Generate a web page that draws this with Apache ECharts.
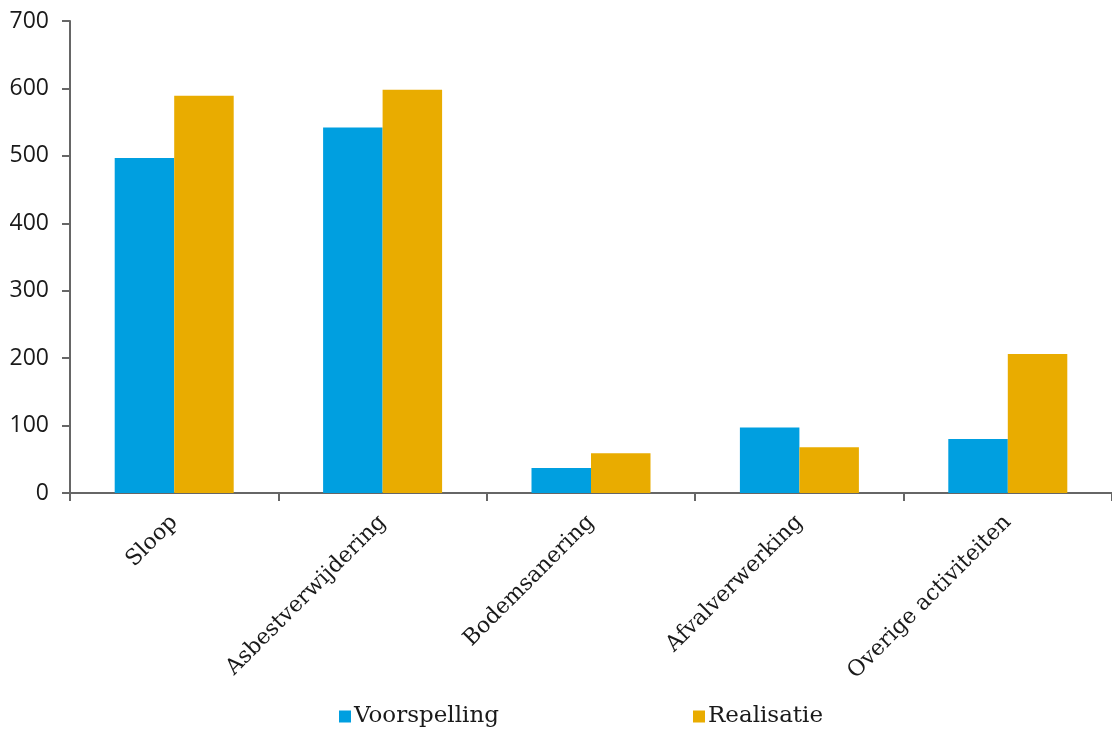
<!DOCTYPE html>
<html>
<head>
<meta charset="utf-8">
<script src="https://cdn.jsdelivr.net/npm/echarts@6/dist/echarts.min.js"></script>
<style>html,body{margin:0;padding:0;background:#fff;}#c{width:1112px;height:731px;}</style>
</head>
<body>
<div id="c"></div>
<script>
const categories = ['Sloop', 'Asbestverwijdering', 'Bodemsanering', 'Afvalverwerking', 'Overige activiteiten'];
const voorspelling = [497, 542, 37, 97, 80];
const realisatie = [589, 598, 59, 68, 206];
const yTicks = [0, 100, 200, 300, 400, 500, 600, 700];

const chart = echarts.init(document.getElementById('c'));
const serif = '"DejaVu Serif", serif';
const sans = '"Open Sans", sans-serif';
chart.setOption({
  animation: false,
  grid: { left: 70, top: 21, width: 1048, height: 472, containLabel: false },
  legend: [
    { data: ['Voorspelling'], left: 334, top: 700, itemWidth: 12, itemHeight: 12, itemGap: 0,
      icon: 'rect', textStyle: { fontFamily: serif, fontSize: 23, color: '#1a1a1a', padding: [0,0,0,-2] } },
    { data: ['Realisatie'], left: 688, top: 700, itemWidth: 12, itemHeight: 12, itemGap: 0,
      icon: 'rect', textStyle: { fontFamily: serif, fontSize: 23, color: '#1a1a1a', padding: [0,0,0,-2] } }
  ],
  xAxis: {
    type: 'category',
    data: categories,
    axisLine: { lineStyle: { color: '#666', width: 2 } },
    axisTick: { show: true, length: 8, lineStyle: { color: '#666', width: 2 } },
    axisLabel: { rotate: 45, margin: 26, fontFamily: serif, fontSize: 22, color: '#1a1a1a' }
  },
  yAxis: {
    type: 'value',
    min: yTicks[0],
    max: yTicks[yTicks.length - 1],
    interval: 100,
    splitLine: { show: false },
    axisLine: { show: true, lineStyle: { color: '#666', width: 2 } },
    axisTick: { show: true, length: 8, lineStyle: { color: '#666', width: 2 } },
    axisLabel: { margin: 21, fontFamily: sans, fontSize: 23, color: '#1a1a1a' }
  },
  series: [
    { name: 'Voorspelling', type: 'bar', data: voorspelling, barWidth: 59.5, barGap: '0%',
      itemStyle: { color: '#009FE0' } },
    { name: 'Realisatie', type: 'bar', data: realisatie, barWidth: 59.5, barGap: '0%',
      itemStyle: { color: '#E9AC00' } }
  ]
});
</script>
</body>
</html>
